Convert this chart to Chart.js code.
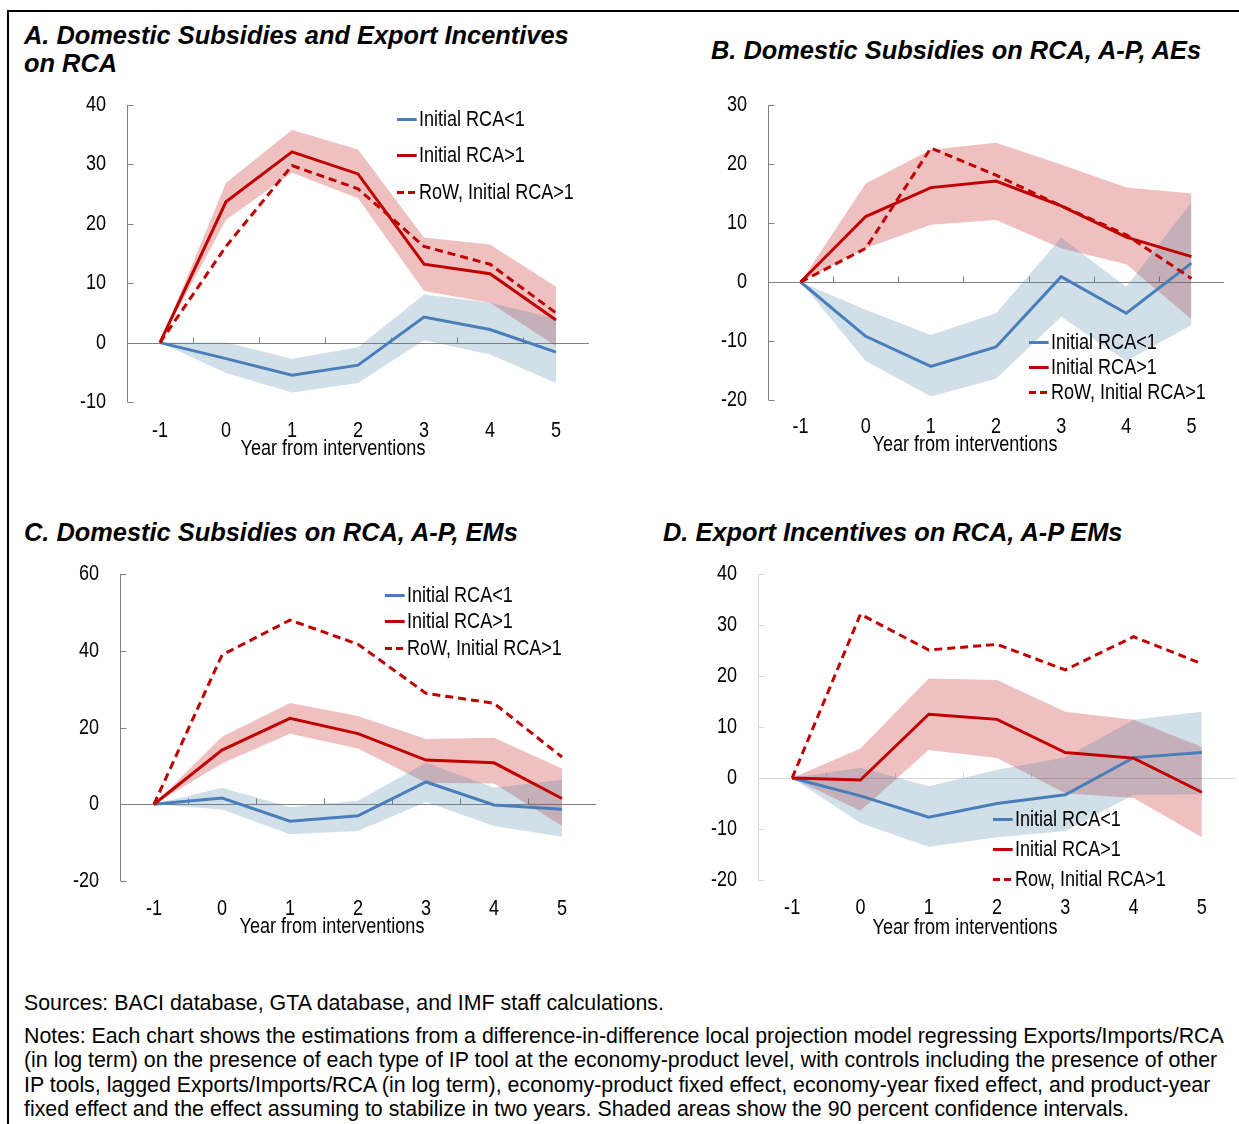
<!DOCTYPE html>
<html>
<head>
<meta charset="utf-8">
<title>Industrial policy tools and RCA</title>
<script src="https://cdn.jsdelivr.net/npm/chart.js@4.4.1/dist/chart.umd.min.js"></script>
<style>
  html, body { margin: 0; padding: 0; background: #fff; }
  body { width: 1239px; height: 1124px; position: relative; overflow: hidden;
         font-family: "Liberation Sans", Arial, sans-serif; color: #000; }
  .frame { position: absolute; left: 7px; top: 10px; width: 1300px; height: 1300px;
           border-left: 2px solid #000; border-top: 2px solid #000; }
  .title { position: absolute; font: italic bold 25.4px "Liberation Sans", Arial, sans-serif;
           line-height: 28px; white-space: nowrap; }
  canvas { position: absolute; }
  .axis-title { position: absolute; font: 22px "Liberation Sans", Arial, sans-serif;
                line-height: 24px; white-space: nowrap; transform: translateX(-50%) scaleX(0.82); }
  .legend { position: absolute; font: 22px "Liberation Sans", Arial, sans-serif; }
  .legend .row { position: absolute; left: 0; height: 24px; line-height: 24px; white-space: nowrap;
                 transform: scaleX(0.82); transform-origin: left center; }
  .legend .swatch { display: inline-block; width: 24.4px; height: 3px; vertical-align: middle;
                    margin-right: 2.4px; position: relative; top: -1px; }
  .note { position: absolute; left: 24px; font: 21.35px "Liberation Sans", Arial, sans-serif;
          line-height: 24px; white-space: nowrap; }
</style>
</head>
<body>
<div class="frame"></div>

<div class="title" style="left:24px; top:21px;">A. Domestic Subsidies and Export Incentives<br>on RCA</div>
<div class="title" style="left:711px; top:36px;">B. Domestic Subsidies on RCA, A-P, AEs</div>
<div class="title" style="left:24px; top:518px;">C. Domestic Subsidies on RCA, A-P, EMs</div>
<div class="title" style="left:663px; top:518px;">D. Export Incentives on RCA, A-P EMs</div>

<canvas id="chartA"></canvas>
<canvas id="chartB"></canvas>
<canvas id="chartC"></canvas>
<canvas id="chartD"></canvas>

<div class="axis-title" style="left:333px; top:436px;">Year from interventions</div>
<div class="axis-title" style="left:965px; top:432px;">Year from interventions</div>
<div class="axis-title" style="left:332px; top:914px;">Year from interventions</div>
<div class="axis-title" style="left:965px; top:915px;">Year from interventions</div>

<div class="note" style="top:991px;">Sources: BACI database, GTA database, and IMF staff calculations.</div>
<div class="note" style="top:1024px;">Notes: Each chart shows the estimations from a difference-in-difference local projection model regressing Exports/Imports/RCA</div>
<div class="note" style="top:1048px;">(in log term) on the presence of each type of IP tool at the economy-product level, with controls including the presence of other</div>
<div class="note" style="top:1073px;">IP tools, lagged Exports/Imports/RCA (in log term), economy-product fixed effect, economy-year fixed effect, and product-year</div>
<div class="note" style="top:1097px;">fixed effect and the effect assuming to stabilize in two years. Shaded areas show the 90 percent confidence intervals.</div>

<script>
// ---- categories ----
const years = ['-1', '0', '1', '2', '3', '4', '5'];

// ---- A. Domestic subsidies and export incentives on RCA ----
const aLow       = [0, -2.7, -5.5, -3.8, 4.3, 2.2, -1.6];
const aLowUpper  = [0, 0.0, -2.7, -0.8, 8.1, 6.7, 4.0];
const aLowLower  = [0, -5.1, -8.4, -6.8, 0.4, -2.0, -6.8];
const aHigh      = [0, 23.7, 32.1, 28.4, 13.2, 11.6, 3.8];
const aHighUpper = [0, 26.9, 35.8, 32.5, 17.7, 16.5, 9.4];
const aHighLower = [0, 20.7, 28.6, 24.3, 8.7, 6.7, -0.6];
const aRow       = [0, 16.2, 29.8, 25.9, 16.2, 13.2, 5.0];

// ---- B. Domestic subsidies on RCA, A-P, AEs ----
const bLow       = [0, -9.2, -14.3, -11.0, 0.9, -5.3, 3.2];
const bLowUpper  = [0, -4.7, -9.0, -5.3, 7.5, -0.8, 13.5];
const bLowLower  = [0, -13.4, -19.4, -16.4, -5.9, -13.4, -7.3];
const bHigh      = [0, 11.1, 16.0, 17.1, 12.9, 7.6, 4.3];
const bHighUpper = [0, 16.7, 22.4, 23.6, 19.9, 16.0, 15.0];
const bHighLower = [0, 5.7, 9.7, 10.5, 5.7, 3.0, -6.3];
const bRow       = [0, 5.7, 22.7, 18.1, 12.9, 8.0, 0.6];

// ---- C. Domestic subsidies on RCA, A-P, EMs ----
const cLow       = [0, 1.6, -4.4, -3.0, 5.8, -0.2, -1.3];
const cLowUpper  = [0, 4.3, -0.7, 0.9, 10.8, 4.3, 6.4];
const cLowLower  = [0, -1.4, -7.8, -7.0, 0.6, -5.7, -8.5];
const cHigh      = [0, 14.1, 22.4, 18.4, 11.5, 10.8, 1.5];
const cHighUpper = [0, 17.6, 26.4, 23.0, 17.0, 17.3, 9.3];
const cHighLower = [0, 10.6, 18.4, 14.5, 5.6, 5.4, -5.7];
const cRow       = [0, 38.9, 48.0, 41.7, 28.9, 26.3, 12.3];

// ---- D. Export incentives on RCA, A-P EMs ----
const dLow       = [0, -3.5, -7.7, -5.0, -3.3, 4.0, 5.0];
const dLowUpper  = [0, 2.0, -1.6, 1.6, 4.0, 11.4, 13.0];
const dLowLower  = [0, -8.8, -13.5, -11.6, -10.4, -3.3, -3.2];
const dHigh      = [0, -0.4, 12.5, 11.5, 5.0, 3.9, -2.8];
const dHighUpper = [0, 5.8, 19.5, 19.2, 13.0, 11.4, 6.1];
const dHighLower = [0, -6.4, 5.5, 3.9, -3.0, -3.9, -11.6];
const dRow       = [0, 32.1, 25.1, 26.2, 21.2, 27.7, 22.4];

// ---- legend labels ----
const legendLabels  = ['Initial RCA<1', 'Initial RCA>1', 'RoW, Initial RCA>1'];
const legendLabelsD = ['Initial RCA<1', 'Initial RCA>1', 'Row, Initial RCA>1'];

// ---- styling ----
const BLUE = '#4a7ebb';
const RED = '#c00000';
const BLUE_BAND = 'rgba(71,127,163,0.25)';
const RED_BAND = 'rgba(191,3,3,0.25)';
const TICK_FONT = '22px "Liberation Sans", Arial, sans-serif';
const SQUEEZE = 0.82;

const Y_W = 80, PAD_T = 20, PAD_R = 4, X_H = 60;

// Axis line with inward ticks, plus the zero line with upward ticks between categories
const panelAxes = {
  id: 'panelAxes',
  beforeDatasetsDraw(chart, args, opts) {
    const { ctx, chartArea, scales: { x, y } } = chart;
    ctx.save();
    ctx.strokeStyle = opts.color;
    ctx.lineWidth = 1;
    ctx.beginPath();
    const ax = Math.round(chartArea.left) + 0.5;
    ctx.moveTo(ax, y.getPixelForValue(y.max));
    ctx.lineTo(ax, y.getPixelForValue(y.min));
    y.ticks.forEach(t => {
      const py = Math.round(y.getPixelForValue(t.value)) + 0.5;
      ctx.moveTo(ax, py);
      ctx.lineTo(ax + 6, py);
    });
    const zy = Math.round(y.getPixelForValue(0)) + 0.5;
    ctx.moveTo(chartArea.left, zy);
    ctx.lineTo(chartArea.right, zy);
    for (let i = 0; i < years.length - 1; i++) {
      const px = Math.round((x.getPixelForValue(i) + x.getPixelForValue(i + 1)) / 2) + 0.5;
      ctx.moveTo(px, zy);
      ctx.lineTo(px, zy - 6);
    }
    ctx.stroke();
    ctx.restore();
  }
};

// Tick labels set in a condensed face, placed from the scales' own ticks
const condensedTicks = {
  id: 'condensedTicks',
  afterDraw(chart, args, opts) {
    const { ctx, chartArea, scales: { x, y } } = chart;
    ctx.save();
    ctx.fillStyle = '#000';
    ctx.font = TICK_FONT;
    ctx.textBaseline = 'middle';
    y.ticks.forEach(t => {
      ctx.save();
      ctx.translate(chartArea.left - opts.yGap, y.getPixelForValue(t.value));
      ctx.scale(SQUEEZE, 1);
      ctx.textAlign = 'right';
      ctx.fillText(t.label, 0, 0);
      ctx.restore();
    });
    x.ticks.forEach((t, i) => {
      ctx.save();
      ctx.translate(x.getPixelForTick(i), chartArea.bottom + opts.xGap);
      ctx.scale(SQUEEZE, 1);
      ctx.textAlign = 'center';
      ctx.fillText(t.label, 0, 0);
      ctx.restore();
    });
    ctx.restore();
  }
};

function lineSet(data, color, dashed) {
  return { data, borderColor: color, borderWidth: 3, borderDash: dashed ? [8, 5] : [],
           pointRadius: 0, tension: 0, fill: false, order: 0 };
}
function bandSet(upper, lower, color) {
  return [
    { data: upper, borderWidth: 0, pointRadius: 0, tension: 0, fill: '+1',
      backgroundColor: color, order: 1 },
    { data: lower, borderWidth: 0, pointRadius: 0, tension: 0, fill: false, order: 1 }
  ];
}

function makePanel(id, box, yScale, s, axisColor, legend) {
  const canvas = document.getElementById(id);
  const W = box.right - box.left + Y_W + PAD_R;
  const H = box.bottom - box.top + PAD_T + X_H;
  canvas.width = W; canvas.height = H;
  canvas.style.width = W + 'px'; canvas.style.height = H + 'px';
  canvas.style.left = (box.left - Y_W) + 'px';
  canvas.style.top = (box.top - PAD_T) + 'px';

  const datasets = [
    lineSet(s.row, RED, true),
    lineSet(s.high, RED, false),
    lineSet(s.low, BLUE, false),
    ...bandSet(s.lowUp, s.lowLo, BLUE_BAND),
    ...bandSet(s.highUp, s.highLo, RED_BAND)
  ];

  new Chart(canvas, {
    type: 'line',
    data: { labels: years, datasets },
    options: {
      responsive: false,
      animation: false,
      layout: { padding: { top: PAD_T, right: PAD_R, left: 0, bottom: 0 } },
      plugins: {
        legend: { display: false }, tooltip: { enabled: false },
        panelAxes: { color: axisColor },
        condensedTicks: { xGap: box.labelGap, yGap: 21 }
      },
      scales: {
        x: {
          offset: true,
          grid: { display: false, drawTicks: false },
          border: { display: false },
          ticks: { display: false, autoSkip: false },
          afterFit: sc => { sc.height = X_H; }
        },
        y: {
          min: yScale.min, max: yScale.max,
          grid: { display: false, drawTicks: false },
          border: { display: false },
          ticks: { display: false, stepSize: yScale.step },
          afterFit: sc => { sc.width = Y_W; }
        }
      }
    },
    plugins: [panelAxes, condensedTicks]
  });

  // legend
  const lg = document.createElement('div');
  lg.className = 'legend';
  lg.style.left = legend.x + 'px';
  lg.style.top = '0px';
  const colors = [BLUE, RED, RED];
  legend.labels.forEach((txt, i) => {
    const row = document.createElement('div');
    row.className = 'row';
    row.style.top = (legend.rows[i] - 12) + 'px';
    const sw = document.createElement('span');
    sw.className = 'swatch';
    sw.style.background = i === 2
      ? `repeating-linear-gradient(to right, ${colors[i]} 0 8.5px, transparent 8.5px 13.4px)`
      : colors[i];
    row.appendChild(sw);
    row.appendChild(document.createTextNode(txt));
    lg.appendChild(row);
  });
  document.body.appendChild(lg);
}

makePanel('chartA', { left: 127, right: 589, top: 105, bottom: 402, labelGap: 29 },
  { min: -10, max: 40, step: 10 },
  { low: aLow, lowUp: aLowUpper, lowLo: aLowLower, high: aHigh, highUp: aHighUpper, highLo: aHighLower, row: aRow },
  '#808080', { x: 397, rows: [119, 155, 192], labels: legendLabels });

makePanel('chartB', { left: 768, right: 1224, top: 105, bottom: 400, labelGap: 27 },
  { min: -20, max: 30, step: 10 },
  { low: bLow, lowUp: bLowUpper, lowLo: bLowLower, high: bHigh, highUp: bHighUpper, highLo: bHighLower, row: bRow },
  '#808080', { x: 1029, rows: [342, 367, 392], labels: legendLabels });

makePanel('chartC', { left: 120, right: 596, top: 574, bottom: 881, labelGap: 28 },
  { min: -20, max: 60, step: 20 },
  { low: cLow, lowUp: cLowUpper, lowLo: cLowLower, high: cHigh, highUp: cHighUpper, highLo: cHighLower, row: cRow },
  '#808080', { x: 385, rows: [595, 621, 648], labels: legendLabels });

makePanel('chartD', { left: 758, right: 1236, top: 574, bottom: 880, labelGap: 28 },
  { min: -20, max: 40, step: 10 },
  { low: dLow, lowUp: dLowUpper, lowLo: dLowLower, high: dHigh, highUp: dHighUpper, highLo: dHighLower, row: dRow },
  '#d9d9d9', { x: 993, rows: [819, 849, 879], labels: legendLabelsD });
</script>
</body>
</html>
